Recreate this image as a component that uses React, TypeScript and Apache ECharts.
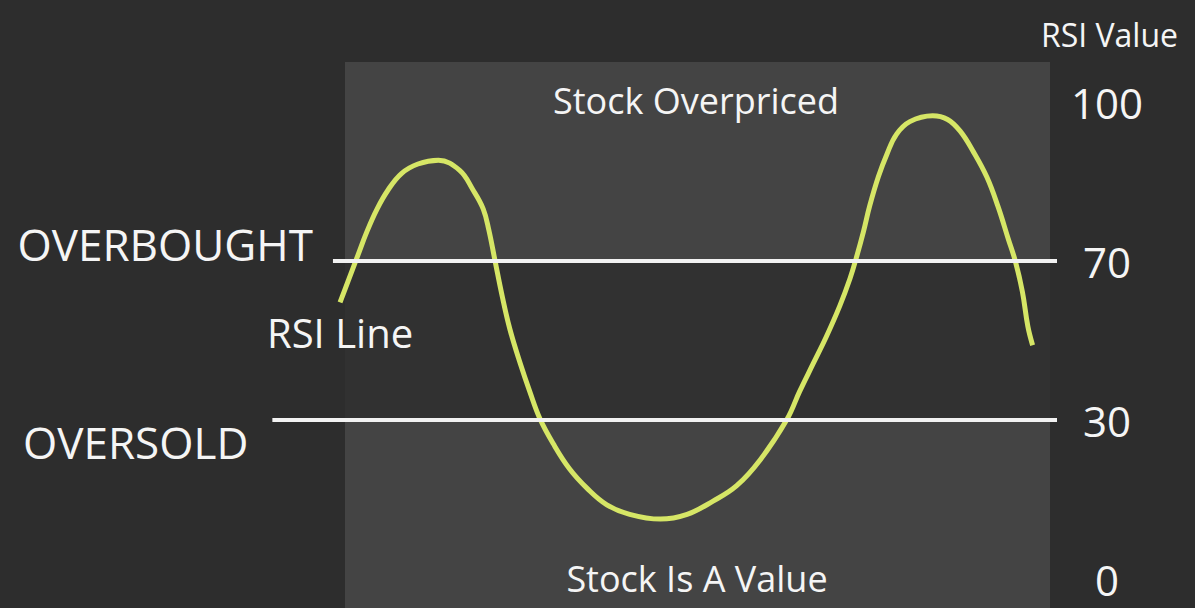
import React, { useEffect, useRef } from "react";
import * as echarts from "echarts";

// Y axis tick labels (the reference spaces them evenly, so the axis is piecewise)
const RSI_TICKS = [0, 30, 70, 100];
const OVERBOUGHT = 70;
const OVERSOLD = 30;

// RSI curve (x in time units 0..100, y = RSI value)
const TIME_POINTS = [
  8.9, 9.9, 11.2, 12.3, 13.6, 15.0, 16.7, 18.8, 21.4,
  24.1, 25.8, 27.1, 27.8, 28.6, 29.5, 30.5, 31.8, 33.0, 34.3,
  36.0, 38.1, 40.3, 42.8, 45.7, 49.6, 53.0, 56.3, 59.3, 62.3, 65.7,
  67.3, 69.0, 70.7, 72.4, 73.7, 74.5, 75.4, 76.2, 77.3, 78.4, 79.6, 81.3, 84.2,
  86.1, 87.7, 89.3, 91.1, 92.5, 93.8, 94.7, 95.6, 96.3, 96.9,
];
const RSI_VALUES = [
  59.6, 64.8, 71.2, 75.5, 79.8, 83.4, 86.5, 88.3, 89.0,
  87.1, 83.4, 79.8, 75.9, 70, 61.2, 52.7, 44.2, 37.2, 30.3,
  25.5, 20.7, 17.1, 14.0, 12.2, 11.3, 12.2, 14.7, 17.6, 22.5, 30.2,
  37.2, 44.1, 51.0, 58.7, 65.6, 70.6, 75.5, 80.4, 85.9, 90.2, 93.9, 96.3, 97.4,
  96.7, 94.5, 90.8, 85.8, 80.3, 74.2, 70, 62.3, 53.5, 48.8,
];

// Extent of the threshold lines along the time axis
const OVERBOUGHT_LINE_FROM = 8;
const OVERSOLD_LINE_FROM = 0.3;
const LINE_TO = 100;

const BG = "#2d2d2d";
const PANEL = "#444444";
const BAND = "#313131";
const FONT = "Open Sans";
const TEXT = "#f5f5f5";

function toAxis(v: number): number {
  for (let i = 0; i < RSI_TICKS.length - 1; i++) {
    const a = RSI_TICKS[i];
    const b = RSI_TICKS[i + 1];
    if (v <= b || i === RSI_TICKS.length - 2) {
      return i + (v - a) / (b - a);
    }
  }
  return 0;
}

export default function App() {
  const ref = useRef<HTMLDivElement>(null);
  useEffect(() => {
    if (!ref.current) return;
    const chart = echarts.init(ref.current, undefined, { renderer: "svg" });
    const data = TIME_POINTS.map((x, i) => [x, toAxis(RSI_VALUES[i])]);
    const yOB = toAxis(OVERBOUGHT);
    const yOS = toAxis(OVERSOLD);
    chart.setOption({
      animation: false,
      backgroundColor: BG,
      title: {
        text: "RSI Value",
        right: 12,
        top: 13,
        textStyle: { color: TEXT, fontSize: 32, fontWeight: "normal", fontFamily: FONT },
      },
      grid: { left: 270, right: 138, top: 102, bottom: 29, containLabel: false },
      xAxis: {
        type: "value",
        min: 0,
        max: 100,
        show: false,
      },
      yAxis: {
        type: "value",
        position: "right",
        min: 0,
        max: 3,
        interval: 1,
        axisLine: { show: false },
        axisTick: { show: false },
        splitLine: { show: false },
        axisLabel: {
          formatter: (v: number) => String(RSI_TICKS[Math.round(v)]),
          color: TEXT,
          fontSize: 42,
          fontFamily: FONT,
          align: "center",
          margin: 50,
        },
      },
      series: [
        {
          type: "line",
          data,
          smooth: 0.4,
          symbol: "none",
          showSymbol: false,
          clip: false,
          lineStyle: { color: "#d6e666", width: 5 },
          markPoint: {
            silent: true,
            symbol: "circle",
            symbolSize: 0,
            data: [
              {
                coord: [TIME_POINTS[0], toAxis(RSI_VALUES[0])],
                label: {
                  show: true,
                  position: "bottom",
                  distance: 10,
                  formatter: "RSI Line",
                  color: TEXT,
                  fontSize: 40,
                  fontFamily: FONT,
                },
              },
            ],
          },
          markLine: {
            silent: true,
            symbol: "none",
            lineStyle: { color: "#f2f2f2", width: 4, type: "solid", opacity: 1 },
            data: [
              [
                {
                  coord: [OVERBOUGHT_LINE_FROM, yOB],
                  label: {
                    show: true,
                    position: "start",
                    formatter: "OVERBOUGHT",
                    color: TEXT,
                    fontSize: 44,
                    fontFamily: FONT,
                    distance: 20,
                    offset: [0, -17],
                  },
                },
                { coord: [LINE_TO, yOB] },
              ],
              [
                {
                  coord: [OVERSOLD_LINE_FROM, yOS],
                  label: {
                    show: true,
                    position: "start",
                    formatter: "OVERSOLD",
                    color: TEXT,
                    fontSize: 44,
                    fontFamily: FONT,
                    distance: 24,
                    offset: [0, 22],
                  },
                },
                { coord: [LINE_TO, yOS] },
              ],
            ],
          },
        },
      ],
    });

    // Panel behind the plot, split at the threshold lines (positions taken from the axis)
    const pOB = chart.convertToPixel({ gridIndex: 0 }, [0, yOB]) as number[];
    const pOS = chart.convertToPixel({ gridIndex: 0 }, [0, yOS]) as number[];
    const panelLeft = 345;
    const panelRight = 1050;
    const panelTop = 62;
    const panelBottom = 608;
    chart.setOption({
      graphic: [
        {
          type: "rect",
          z: -10,
          silent: true,
          shape: { x: panelLeft, y: panelTop, width: panelRight - panelLeft, height: pOB[1] - panelTop },
          style: { fill: PANEL },
        },
        {
          type: "rect",
          z: -10,
          silent: true,
          shape: { x: panelLeft, y: pOB[1], width: panelRight - panelLeft, height: pOS[1] - pOB[1] },
          style: { fill: BAND },
        },
        {
          type: "rect",
          z: -10,
          silent: true,
          shape: { x: panelLeft, y: pOS[1], width: panelRight - panelLeft, height: panelBottom - pOS[1] },
          style: { fill: PANEL },
        },
        {
          type: "text",
          z: 10,
          x: 696,
          y: 100,
          style: {
            text: "Stock Overpriced",
            fill: TEXT,
            fontSize: 36,
            fontFamily: FONT,
            align: "center",
            verticalAlign: "middle",
          },
        },
        {
          type: "text",
          z: 10,
          x: 697,
          y: 578,
          style: {
            text: "Stock Is A Value",
            fill: TEXT,
            fontSize: 36,
            fontFamily: FONT,
            align: "center",
            verticalAlign: "middle",
          },
        },
      ],
    });
    return () => chart.dispose();
  }, []);
  return (
    <div
      ref={ref}
      style={{ position: "fixed", left: 0, top: 0, width: 1195, height: 608 }}
    />
  );
}
